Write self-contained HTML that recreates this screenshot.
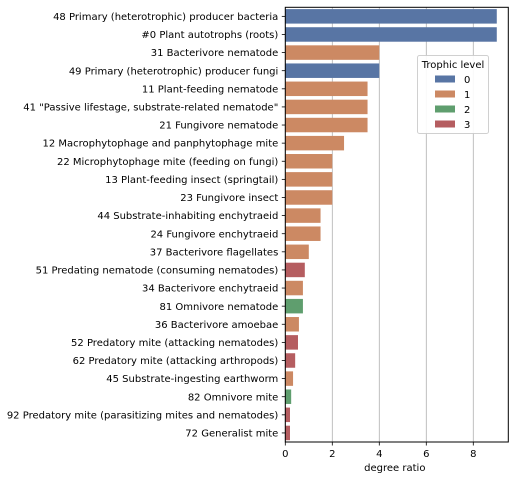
<!DOCTYPE html>
<html><head><meta charset="utf-8"><style>
body{margin:0;background:#fff;}
svg text{font-family:"DejaVu Sans","Liberation Sans",sans-serif;fill:#000;}
</style></head><body>
<svg id="chart" width="515" height="480"></svg>
<script>
const categories=["48 Primary (heterotrophic) producer bacteria","#0 Plant autotrophs (roots)","31 Bacterivore nematode","49 Primary (heterotrophic) producer fungi","11 Plant-feeding nematode","41 \"Passive lifestage, substrate-related nematode\"","21 Fungivore nematode","12 Macrophytophage and panphytophage mite","22 Microphytophage mite (feeding on fungi)","13 Plant-feeding insect (springtail)","23 Fungivore insect","44 Substrate-inhabiting enchytraeid","24 Fungivore enchytraeid","37 Bacterivore flagellates","51 Predating nematode (consuming nematodes)","34 Bacterivore enchytraeid","81 Omnivore nematode","36 Bacterivore amoebae","52 Predatory mite (attacking nematodes)","62 Predatory mite (attacking arthropods)","45 Substrate-ingesting earthworm","82 Omnivore mite","92 Predatory mite (parasitizing mites and nematodes)","72 Generalist mite"];
const values=[9,9,4,4,3.5,3.5,3.5,2.5,2,2,2,1.5,1.5,1.0,0.83,0.75,0.75,0.58,0.54,0.42,0.33,0.25,0.2,0.2];
const levels=[0,0,1,0,1,1,1,1,1,1,1,1,1,1,3,1,2,1,3,3,1,2,3,3];
const xTicks=[0,2,4,6,8];
const legendLabels=["0","1","2","3"];
const colors=["#5875a4","#cc8963","#5f9e6e","#b55d60"];
const NS="http://www.w3.org/2000/svg";
const svg=document.getElementById('chart');
const L=285.3,R=508.3,T=7.3,B=442,XMAX=9.49;
const xs=v=>L+v/XMAX*(R-L);
const band=(B-T)/categories.length;
function mk(t,a){const e=document.createElementNS(NS,t);for(const k in a)e.setAttribute(k,a[k]);svg.appendChild(e);return e;}
xTicks.forEach(t=>{
  const g=mk('line',{x1:xs(t),x2:xs(t),y1:T,y2:B,stroke:'#b0b0b0','stroke-width':0.8});
  
  
  const tk=mk('line',{x1:xs(t),x2:xs(t),y1:B,y2:B+3.5,stroke:'#000','stroke-width':0.8});
  
  
  const tl=mk('text',{x:xs(t),y:B+15,'font-size':10,'text-anchor':'middle'});
  tl.textContent=t;
  
  
});
categories.forEach((c,i)=>{
  const yc=T+band*(i+0.5);
  const r=mk('rect',{x:xs(0),y:yc-band*0.4,width:xs(values[i])-xs(0),height:band*0.8,fill:colors[levels[i]]});
  
  
  const tk=mk('line',{x1:L-3.5,x2:L,y1:yc,y2:yc,stroke:'#000','stroke-width':0.8});
  
  
  const tl=mk('text',{x:L-7,y:yc+3.6,'font-size':10,'text-anchor':'end'});
  tl.textContent=c;
  
  
});
const ax=mk('rect',{x:L,y:T,width:R-L,height:B-T,fill:'none',stroke:'#000','stroke-width':1});


const xl=mk('text',{x:(L+R)/2-2,y:471,'font-size':10,'text-anchor':'middle'});
xl.textContent='degree ratio';


const lg=mk('rect',{x:417.5,y:55.5,width:71,height:78,rx:2,fill:'#fff',stroke:'#ccc','stroke-width':1,opacity:0.9});


const lt=mk('text',{x:453,y:68,'font-size':10,'text-anchor':'middle'});
lt.textContent='Trophic level';


legendLabels.forEach((l,i)=>{
  const y=79+i*15;
  const p=mk('rect',{x:435,y:y-3.5,width:20,height:7,fill:colors[i]});
  
  
  const t=mk('text',{x:464,y:y+4,'font-size':10});
  t.textContent=l;
  
  
});
</script>
</body></html>
